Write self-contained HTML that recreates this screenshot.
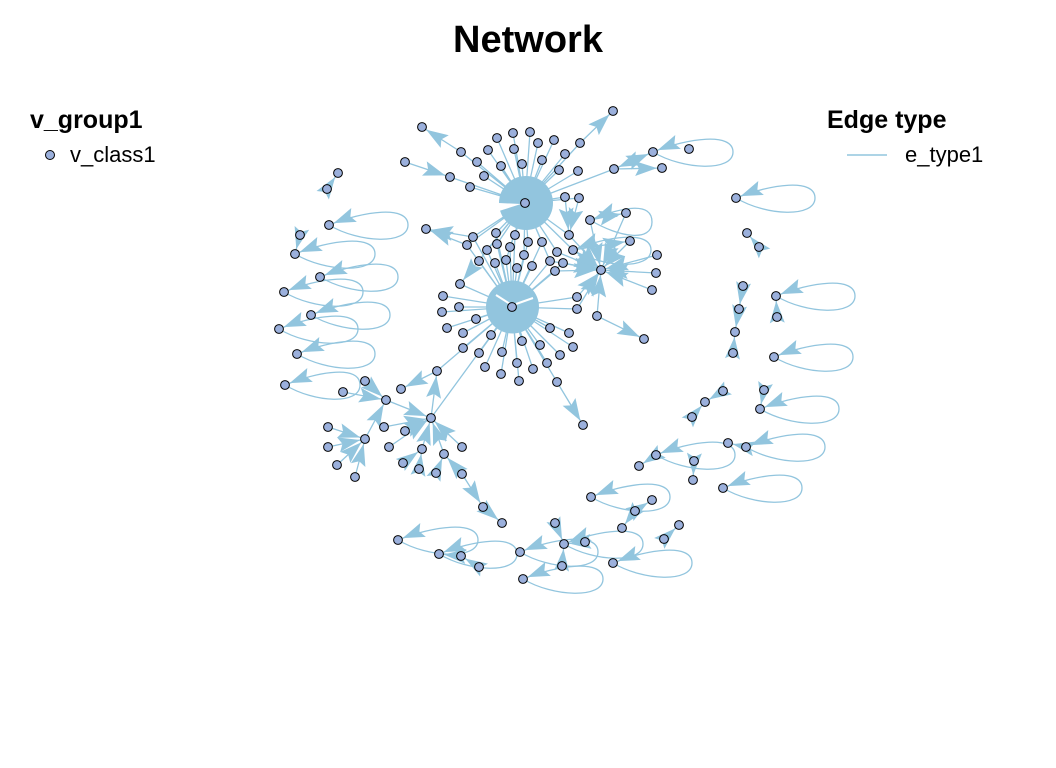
<!DOCTYPE html>
<html><head><meta charset="utf-8"><style>
html,body{margin:0;padding:0;background:#fff;}
svg{display:block;}
text{font-family:"Liberation Sans",Arial,sans-serif;fill:#000;}
</style></head><body>
<svg width="1056" height="768" viewBox="0 0 1056 768" xmlns="http://www.w3.org/2000/svg">
<defs>
<marker id="a" markerUnits="userSpaceOnUse" markerWidth="22" markerHeight="15" refX="27" refY="7.5" orient="auto" overflow="visible"><path d="M0,0 L22,7.5 L0,15 L4,7.5 Z" fill="#92c5de"/></marker>
</defs>
<rect width="1056" height="768" fill="#fff"/>
<text x="528" y="52" font-size="38" font-weight="bold" text-anchor="middle">Network</text>
<text x="30" y="128" font-size="25" font-weight="bold">v_group1</text>
<circle cx="50" cy="155" r="4.5" fill="#9bb0dc" stroke="#000" stroke-width="1"/>
<text x="70" y="162" font-size="22">v_class1</text>
<text x="827" y="128" font-size="25" font-weight="bold">Edge type</text>
<line x1="847" y1="155" x2="887" y2="155" stroke="#92c5de" stroke-width="1.5"/>
<text x="905" y="162" font-size="22">e_type1</text>

<g fill="none" stroke="#92c5de" stroke-width="1.3">
<path d="M525,203L461,152M525,203L477,162M525,203L450,177M525,203L470,187M525,203L484,176M525,203L488,150M525,203L501,166M525,203L497,138M525,203L513,133M525,203L530,132M525,203L514,149M525,203L522,164M525,203L538,143M525,203L554,140M525,203L542,160M525,203L559,170M525,203L565,154M525,203L580,143M525,203L578,171M525,203L565,197M525,203L579,198M525,203L614,169M525,203L473,237M525,203L496,233M525,203L515,235M525,203L528,242M525,203L542,242M525,203L569,235M525,203L467,245M525,203L487,250M525,203L497,244M525,203L510,247M525,203L524,255M525,203L506,260M525,203L557,252M525,203L550,261M525,203L573,250"/>
<path d="M512,307L460,284M512,307L443,296M512,307L459,307M512,307L442,312M512,307L476,319M512,307L447,328M512,307L463,333M512,307L491,335M512,307L463,348M512,307L479,353M512,307L502,352M512,307L522,341M512,307L540,345M512,307L550,328M512,307L569,333M512,307L577,297M512,307L577,309M512,307L573,347M512,307L560,355M512,307L547,363M512,307L485,367M512,307L501,374M512,307L517,363M512,307L533,369M512,307L519,381M512,307L557,382M512,307L437,371M512,307L431,418M512,307L479,261M512,307L495,263M512,307L506,260M512,307L517,268M512,307L532,266M512,307L524,255M512,307L487,250M512,307L467,245M512,307L497,244M512,307L510,247M512,307L550,261M512,307L473,237M512,307L528,242M512,307L542,242M512,307L496,233M512,307L515,235M512,307L555,271M512,307L563,263"/>
<g marker-end="url(#a)">
<path d="M329,225c30,18 79,20 79,0c0,-20 -44,-14 -79,0"/>
<path d="M295,254c30,18 80,20 80,0c0,-20 -45,-14 -80,0"/>
<path d="M320,277c30,18 78,20 78,0c0,-20 -43,-14 -78,0"/>
<path d="M284,292c30,18 79,20 79,0c0,-20 -44,-14 -79,0"/>
<path d="M311,315c30,18 79,20 79,0c0,-20 -44,-14 -79,0"/>
<path d="M279,329c30,18 79,20 79,0c0,-20 -44,-14 -79,0"/>
<path d="M297,354c30,18 78,20 78,0c0,-20 -43,-14 -78,0"/>
<path d="M285,385c30,18 75,20 75,0c0,-20 -40,-14 -75,0"/>
<path d="M653,152c30,18 80,20 80,0c0,-20 -45,-14 -80,0"/>
<path d="M736,198c30,18 79,20 79,0c0,-20 -44,-14 -79,0"/>
<path d="M776,296c30,18 79,20 79,0c0,-20 -44,-14 -79,0"/>
<path d="M774,357c30,18 79,20 79,0c0,-20 -44,-14 -79,0"/>
<path d="M760,409c30,18 79,20 79,0c0,-20 -44,-14 -79,0"/>
<path d="M746,447c30,18 79,20 79,0c0,-20 -44,-14 -79,0"/>
<path d="M723,488c30,18 79,20 79,0c0,-20 -44,-14 -79,0"/>
<path d="M656,455c30,18 79,20 79,0c0,-20 -44,-14 -79,0"/>
<path d="M591,497c30,18 79,20 79,0c0,-20 -44,-14 -79,0"/>
<path d="M613,563c30,18 79,20 79,0c0,-20 -44,-14 -79,0"/>
<path d="M398,540c30,18 80,20 80,0c0,-20 -45,-14 -80,0"/>
<path d="M439,554c30,18 78,20 78,0c0,-20 -43,-14 -78,0"/>
<path d="M520,552c30,18 78,20 78,0c0,-20 -43,-14 -78,0"/>
<path d="M523,579c30,18 80,20 80,0c0,-20 -45,-14 -80,0"/>
<path d="M564,544c30,18 79,20 79,0c0,-20 -44,-14 -79,0"/>
<path d="M590,220c30,18 62,22 62,2c0,-20 -27,-16 -62,-2"/>
<path d="M573,250c30,18 78,20 78,0c0,-20 -43,-14 -78,0"/>
</g>
<g marker-end="url(#a)">
<path d="M461,152L422,127"/><path d="M405,162L450,177"/><path d="M580,143L613,111"/>
<path d="M614,169L653,152"/><path d="M653,152L614,169"/><path d="M614,169L662,168"/>
<path d="M327,189L338,173"/><path d="M300,235L295,254"/>
<path d="M467,245L426,229"/><path d="M473,237L426,229"/><path d="M525,203L460,284"/>
<path d="M565,197L569,235"/><path d="M579,198L569,235"/>
<path d="M590,220L626,213"/><path d="M573,250L630,241"/>
<path d="M597,316L644,339"/><path d="M557,382L583,425"/>
<path d="M557,252L601,270"/><path d="M563,263L601,270"/><path d="M555,271L601,270"/><path d="M550,261L601,270"/>
<path d="M630,241L601,270"/><path d="M657,255L601,270"/><path d="M656,273L601,270"/><path d="M652,290L601,270"/>
<path d="M597,316L601,270"/><path d="M577,297L601,270"/><path d="M577,309L601,270"/><path d="M573,250L601,270"/>
<path d="M590,220L601,270"/><path d="M626,213L601,270"/><path d="M569,235L601,270"/>
<path d="M759,247L747,233"/><path d="M743,286L739,309"/><path d="M739,309L735,332"/><path d="M733,353L735,332"/>
<path d="M777,317L776,296"/><path d="M723,391L705,402"/><path d="M692,417L705,402"/><path d="M764,390L760,409"/>
<path d="M694,461L693,480"/><path d="M656,455L639,466"/><path d="M635,511L652,500"/><path d="M635,511L622,528"/>
<path d="M664,539L679,525"/><path d="M555,523L564,544"/><path d="M562,566L564,544"/><path d="M585,542L564,544"/>
<path d="M746,447L728,443"/>
<path d="M437,371L401,389"/><path d="M431,418L437,371"/><path d="M343,392L386,400"/><path d="M365,381L386,400"/>
<path d="M365,439L386,400"/><path d="M386,400L431,418"/>
<path d="M328,427L365,439"/><path d="M328,447L365,439"/><path d="M337,465L365,439"/><path d="M355,477L365,439"/>
<path d="M384,427L431,418"/><path d="M405,431L431,418"/><path d="M389,447L431,418"/><path d="M422,449L431,418"/>
<path d="M444,454L431,418"/><path d="M462,447L431,418"/><path d="M403,463L422,449"/><path d="M419,469L422,449"/>
<path d="M436,473L444,454"/><path d="M462,474L444,454"/><path d="M462,474L483,507"/><path d="M483,507L502,523"/>
<path d="M461,556L439,554"/><path d="M479,567L461,556"/>
</g>
</g>

<circle cx="526" cy="203" r="27" fill="#92c5de"/>
<polygon points="499,203 499,211 521,204" fill="#fff"/>
<circle cx="512.5" cy="307" r="26.5" fill="#92c5de"/>
<line x1="496" y1="295" x2="510" y2="304" stroke="#fff" stroke-width="2"/>
<line x1="516" y1="304" x2="533" y2="298" stroke="#fff" stroke-width="2"/>

<g fill="#9bb0dc" stroke="#000" stroke-width="1">
<circle cx="422" cy="127" r="4.4"/><circle cx="461" cy="152" r="4.4"/><circle cx="477" cy="162" r="4.4"/><circle cx="405" cy="162" r="4.4"/><circle cx="450" cy="177" r="4.4"/><circle cx="470" cy="187" r="4.4"/><circle cx="338" cy="173" r="4.4"/><circle cx="327" cy="189" r="4.4"/>
<circle cx="488" cy="150" r="4.4"/><circle cx="484" cy="176" r="4.4"/><circle cx="501" cy="166" r="4.4"/><circle cx="497" cy="138" r="4.4"/><circle cx="513" cy="133" r="4.4"/><circle cx="530" cy="132" r="4.4"/><circle cx="514" cy="149" r="4.4"/><circle cx="522" cy="164" r="4.4"/><circle cx="538" cy="143" r="4.4"/><circle cx="554" cy="140" r="4.4"/><circle cx="542" cy="160" r="4.4"/><circle cx="559" cy="170" r="4.4"/><circle cx="565" cy="154" r="4.4"/><circle cx="580" cy="143" r="4.4"/><circle cx="578" cy="171" r="4.4"/><circle cx="565" cy="197" r="4.4"/><circle cx="579" cy="198" r="4.4"/><circle cx="525" cy="203" r="4.4"/><circle cx="613" cy="111" r="4.4"/><circle cx="614" cy="169" r="4.4"/><circle cx="653" cy="152" r="4.4"/><circle cx="662" cy="168" r="4.4"/><circle cx="689" cy="149" r="4.4"/>
<circle cx="426" cy="229" r="4.4"/><circle cx="473" cy="237" r="4.4"/><circle cx="467" cy="245" r="4.4"/><circle cx="496" cy="233" r="4.4"/><circle cx="497" cy="244" r="4.4"/><circle cx="515" cy="235" r="4.4"/><circle cx="510" cy="247" r="4.4"/><circle cx="487" cy="250" r="4.4"/><circle cx="528" cy="242" r="4.4"/><circle cx="542" cy="242" r="4.4"/><circle cx="524" cy="255" r="4.4"/><circle cx="479" cy="261" r="4.4"/><circle cx="495" cy="263" r="4.4"/><circle cx="506" cy="260" r="4.4"/><circle cx="517" cy="268" r="4.4"/><circle cx="532" cy="266" r="4.4"/><circle cx="550" cy="261" r="4.4"/><circle cx="557" cy="252" r="4.4"/><circle cx="563" cy="263" r="4.4"/><circle cx="555" cy="271" r="4.4"/><circle cx="569" cy="235" r="4.4"/><circle cx="573" cy="250" r="4.4"/><circle cx="590" cy="220" r="4.4"/><circle cx="626" cy="213" r="4.4"/><circle cx="630" cy="241" r="4.4"/><circle cx="657" cy="255" r="4.4"/><circle cx="656" cy="273" r="4.4"/><circle cx="652" cy="290" r="4.4"/><circle cx="601" cy="270" r="4.4"/><circle cx="577" cy="297" r="4.4"/><circle cx="577" cy="309" r="4.4"/><circle cx="597" cy="316" r="4.4"/><circle cx="644" cy="339" r="4.4"/>
<circle cx="460" cy="284" r="4.4"/><circle cx="443" cy="296" r="4.4"/><circle cx="459" cy="307" r="4.4"/><circle cx="442" cy="312" r="4.4"/><circle cx="512" cy="307" r="4.4"/><circle cx="476" cy="319" r="4.4"/><circle cx="447" cy="328" r="4.4"/><circle cx="463" cy="333" r="4.4"/><circle cx="491" cy="335" r="4.4"/><circle cx="463" cy="348" r="4.4"/><circle cx="479" cy="353" r="4.4"/><circle cx="502" cy="352" r="4.4"/><circle cx="522" cy="341" r="4.4"/><circle cx="540" cy="345" r="4.4"/><circle cx="550" cy="328" r="4.4"/><circle cx="569" cy="333" r="4.4"/><circle cx="573" cy="347" r="4.4"/><circle cx="560" cy="355" r="4.4"/><circle cx="547" cy="363" r="4.4"/><circle cx="485" cy="367" r="4.4"/><circle cx="501" cy="374" r="4.4"/><circle cx="517" cy="363" r="4.4"/><circle cx="533" cy="369" r="4.4"/><circle cx="519" cy="381" r="4.4"/><circle cx="557" cy="382" r="4.4"/><circle cx="583" cy="425" r="4.4"/><circle cx="437" cy="371" r="4.4"/>
<circle cx="329" cy="225" r="4.4"/><circle cx="300" cy="235" r="4.4"/><circle cx="295" cy="254" r="4.4"/><circle cx="320" cy="277" r="4.4"/><circle cx="284" cy="292" r="4.4"/><circle cx="311" cy="315" r="4.4"/><circle cx="279" cy="329" r="4.4"/><circle cx="297" cy="354" r="4.4"/><circle cx="285" cy="385" r="4.4"/>
<circle cx="343" cy="392" r="4.4"/><circle cx="365" cy="381" r="4.4"/><circle cx="401" cy="389" r="4.4"/><circle cx="386" cy="400" r="4.4"/><circle cx="431" cy="418" r="4.4"/><circle cx="328" cy="427" r="4.4"/><circle cx="384" cy="427" r="4.4"/><circle cx="405" cy="431" r="4.4"/><circle cx="365" cy="439" r="4.4"/><circle cx="328" cy="447" r="4.4"/><circle cx="389" cy="447" r="4.4"/><circle cx="422" cy="449" r="4.4"/><circle cx="462" cy="447" r="4.4"/><circle cx="444" cy="454" r="4.4"/><circle cx="337" cy="465" r="4.4"/><circle cx="403" cy="463" r="4.4"/><circle cx="419" cy="469" r="4.4"/><circle cx="436" cy="473" r="4.4"/><circle cx="462" cy="474" r="4.4"/><circle cx="355" cy="477" r="4.4"/><circle cx="483" cy="507" r="4.4"/><circle cx="502" cy="523" r="4.4"/>
<circle cx="398" cy="540" r="4.4"/><circle cx="439" cy="554" r="4.4"/><circle cx="461" cy="556" r="4.4"/><circle cx="479" cy="567" r="4.4"/><circle cx="520" cy="552" r="4.4"/><circle cx="555" cy="523" r="4.4"/><circle cx="564" cy="544" r="4.4"/><circle cx="585" cy="542" r="4.4"/><circle cx="562" cy="566" r="4.4"/><circle cx="523" cy="579" r="4.4"/><circle cx="591" cy="497" r="4.4"/><circle cx="622" cy="528" r="4.4"/><circle cx="613" cy="563" r="4.4"/><circle cx="635" cy="511" r="4.4"/><circle cx="652" cy="500" r="4.4"/><circle cx="679" cy="525" r="4.4"/><circle cx="664" cy="539" r="4.4"/><circle cx="639" cy="466" r="4.4"/><circle cx="656" cy="455" r="4.4"/><circle cx="694" cy="461" r="4.4"/><circle cx="693" cy="480" r="4.4"/><circle cx="723" cy="488" r="4.4"/><circle cx="728" cy="443" r="4.4"/><circle cx="746" cy="447" r="4.4"/><circle cx="723" cy="391" r="4.4"/><circle cx="705" cy="402" r="4.4"/><circle cx="692" cy="417" r="4.4"/><circle cx="764" cy="390" r="4.4"/><circle cx="760" cy="409" r="4.4"/>
<circle cx="736" cy="198" r="4.4"/><circle cx="747" cy="233" r="4.4"/><circle cx="759" cy="247" r="4.4"/><circle cx="743" cy="286" r="4.4"/><circle cx="739" cy="309" r="4.4"/><circle cx="735" cy="332" r="4.4"/><circle cx="733" cy="353" r="4.4"/><circle cx="776" cy="296" r="4.4"/><circle cx="777" cy="317" r="4.4"/><circle cx="774" cy="357" r="4.4"/>
</g>
</svg>
</body></html>
